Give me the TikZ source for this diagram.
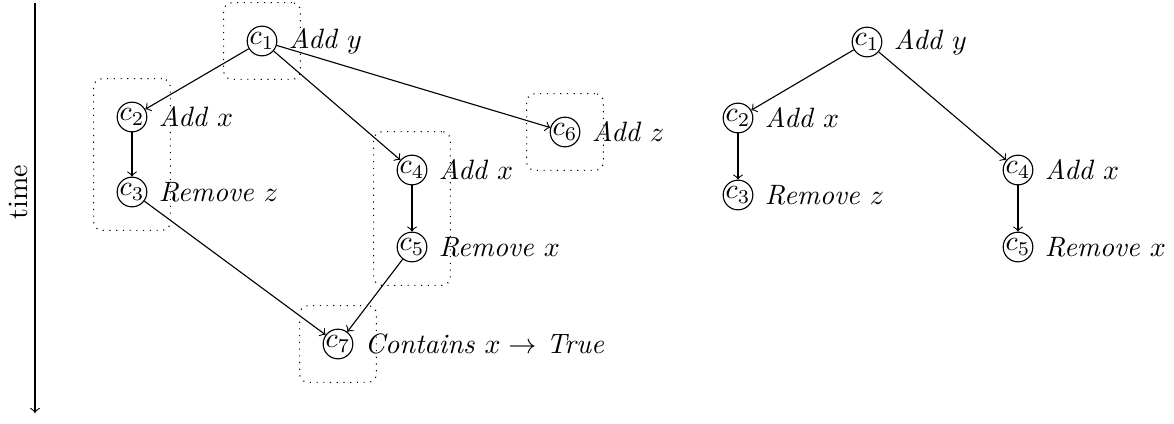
\documentclass[tikz,border=0pt]{standalone}
\usetikzlibrary{positioning,fit}
\begin{document}
\begin{tikzpicture}[x=0.3571pt,y=-0.3571pt,
  ev/.style={draw,circle,inner sep=0pt,minimum size=10.6pt},
  lbl/.style={right=0.6pt of #1,font=\itshape},
  grp/.style={draw,dotted,rounded corners=3pt,inner sep=8.2pt},
  edge/.style={->}]
\useasboundingbox (0,0) rectangle (1174,423);
% time axis
\coordinate (t0) at (35,3);
\coordinate (t1) at (35,413);
\draw[->] (t0) -- (t1);
\node[rotate=90] (tl) at (18,192) {time};
% left graph
\node[ev] (a1) at (262,41) {$c_1$};
\node[ev] (a2) at (132,117) {$c_2$};
\node[ev] (a3) at (132,192) {$c_3$};
\node[ev] (a4) at (412,170) {$c_4$};
\node[ev] (a5) at (412,247) {$c_5$};
\node[ev] (a6) at (565,132) {$c_6$};
\node[ev] (a7) at (338,344) {$c_7$};
\node[lbl=a1] (la1) {Add $y$};
\node[lbl=a2] (la2) {Add $x$};
\node[lbl=a3] (la3) {Remove $z$};
\node[lbl=a4] (la4) {Add $x$};
\node[lbl=a5] (la5) {Remove $x$};
\node[lbl=a6] (la6) {Add $z$};
\node[lbl=a7] (la7) {Contains $x \rightarrow$ True};
\draw[edge] (a1) -- (a2);
\draw[edge] (a1) -- (a4);
\draw[edge] (a1) -- (a6);
\draw[edge] (a2) -- (a3);
\draw[edge] (a4) -- (a5);
\draw[edge] (a3) -- (a7);
\draw[edge] (a5) -- (a7);
\node[grp,fit=(a1)] (g1) {};
\node[grp,fit=(a2)(a3)] (g2) {};
\node[grp,fit=(a4)(a5)] (g3) {};
\node[grp,fit=(a6)] (g4) {};
\node[grp,fit=(a7)] (g5) {};
% right tree
\node[ev] (b1) at (867,42) {$c_1$};
\node[ev] (b2) at (738,118) {$c_2$};
\node[ev] (b3) at (738,195) {$c_3$};
\node[ev] (b4) at (1018,170) {$c_4$};
\node[ev] (b5) at (1018,247) {$c_5$};
\node[lbl=b1] (lb1) {Add $y$};
\node[lbl=b2] (lb2) {Add $x$};
\node[lbl=b3] (lb3) {Remove $z$};
\node[lbl=b4] (lb4) {Add $x$};
\node[lbl=b5] (lb5) {Remove $x$};
\draw[edge] (b1) -- (b2);
\draw[edge] (b1) -- (b4);
\draw[edge] (b2) -- (b3);
\draw[edge] (b4) -- (b5);
\end{tikzpicture}
\end{document}
